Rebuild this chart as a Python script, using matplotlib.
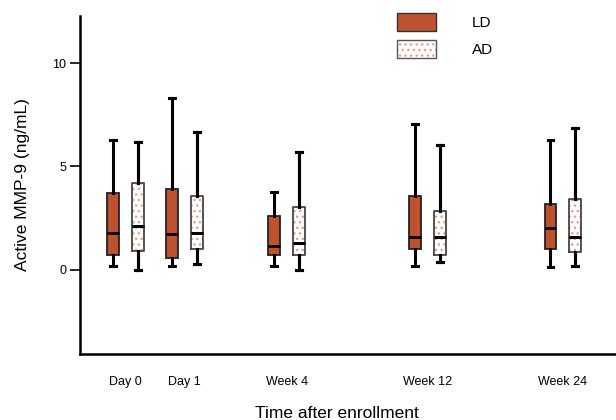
import matplotlib
matplotlib.use("Agg")
import matplotlib.pyplot as plt
from matplotlib.patches import Patch

plt.rcParams['font.family'] = ['Liberation Sans', 'DejaVu Sans']
plt.rcParams['hatch.linewidth'] = 1.0

timepoints = ['Day 0', 'Day 1', 'Week 4', 'Week 12', 'Week 24']

# LD group: lower whisker, Q1, median, Q3, upper whisker
ld_low = [0.15, 0.15, 0.16, 0.16, 0.11]
ld_q1 = [0.71, 0.58, 0.71, 1.00, 1.00]
ld_med = [1.78, 1.71, 1.15, 1.57, 2.02]
ld_q3 = [3.72, 3.92, 2.62, 3.59, 3.19]
ld_high = [6.26, 8.32, 3.75, 7.04, 6.30]

# AD group
ad_low = [0.0, 0.28, 0.0, 0.35, 0.16]
ad_q1 = [0.92, 0.99, 0.71, 0.71, 0.84]
ad_med = [2.09, 1.78, 1.31, 1.57, 1.57]
ad_q3 = [4.21, 3.56, 3.04, 2.83, 3.40]
ad_high = [6.17, 6.67, 5.69, 6.05, 6.88]

ld_color = '#C0532F'
dot_color = '#E8A088'

centers = [0, 1, 2.73, 5.12, 7.41]
offset = 0.21
width = 0.2


def stats(low, q1, med, q3, high):
    return [dict(whislo=a, q1=b, med=c, q3=d, whishi=e, fliers=[])
            for a, b, c, d, e in zip(low, q1, med, q3, high)]


fig = plt.figure(figsize=(6.16, 4.2), dpi=100)
ax = fig.add_axes([0.13, 0.157, 0.87, 0.805])

common = dict(widths=width, showfliers=False,
              whiskerprops=dict(color='black', linewidth=2.2),
              capprops=dict(color='black', linewidth=2.2),
              medianprops=dict(color='black', linewidth=2.0))

ld_pos = [c - offset for c in centers]
ad_pos = [c + offset for c in centers]

ax.bxp(stats(ld_low, ld_q1, ld_med, ld_q3, ld_high), positions=ld_pos,
       patch_artist=True,
       boxprops=dict(facecolor=ld_color, edgecolor='#222222', linewidth=1.3),
       manage_ticks=False, zorder=3, **common)

# hatched fill for AD, then the outlines on top
ax.bxp(stats(ad_low, ad_q1, ad_med, ad_q3, ad_high), positions=ad_pos,
       patch_artist=True,
       boxprops=dict(facecolor='white', edgecolor=dot_color, hatch='...',
                     linewidth=0),
       manage_ticks=False, zorder=2, **common)
ax.bxp(stats(ad_low, ad_q1, ad_med, ad_q3, ad_high), positions=ad_pos,
       patch_artist=False,
       boxprops=dict(color='#444444', linewidth=1.3),
       manage_ticks=False, zorder=3, **common)

ax.set_xlim(-0.77, 8.31)
ax.set_ylim(-4.1, 12.3)
ax.set_yticks([0, 5, 10])
ax.set_xticks(centers)
ax.set_xticklabels(timepoints, fontsize=9)
ax.tick_params(axis='x', length=0, pad=16)
ax.tick_params(axis='y', labelsize=9, length=7, width=1.2, pad=3)
for s in ['top', 'right']:
    ax.spines[s].set_visible(False)
for s in ['left', 'bottom']:
    ax.spines[s].set_linewidth(1.8)

ax.set_ylabel('Active MMP-9 (ng/mL)', fontsize=12.5, labelpad=16)
ax.set_xlabel('Time after enrollment', fontsize=12.5)
ax.xaxis.set_label_coords(0.48, -0.155)

ld_handle = Patch(facecolor=ld_color, edgecolor='#333333', linewidth=1.0)
ad_handle = (Patch(facecolor='white', edgecolor=dot_color, hatch='...', linewidth=0),
             Patch(fill=False, edgecolor='#555555', linewidth=1.0))
ax.legend([ld_handle, ad_handle], ['LD', 'AD'], loc='upper left',
          bbox_to_anchor=(0.565, 1.05), frameon=False, fontsize=11,
          handlelength=2.6, handleheight=1.5, handletextpad=2.3,
          labelspacing=0.55)

fig.savefig('out.png', dpi=100)
